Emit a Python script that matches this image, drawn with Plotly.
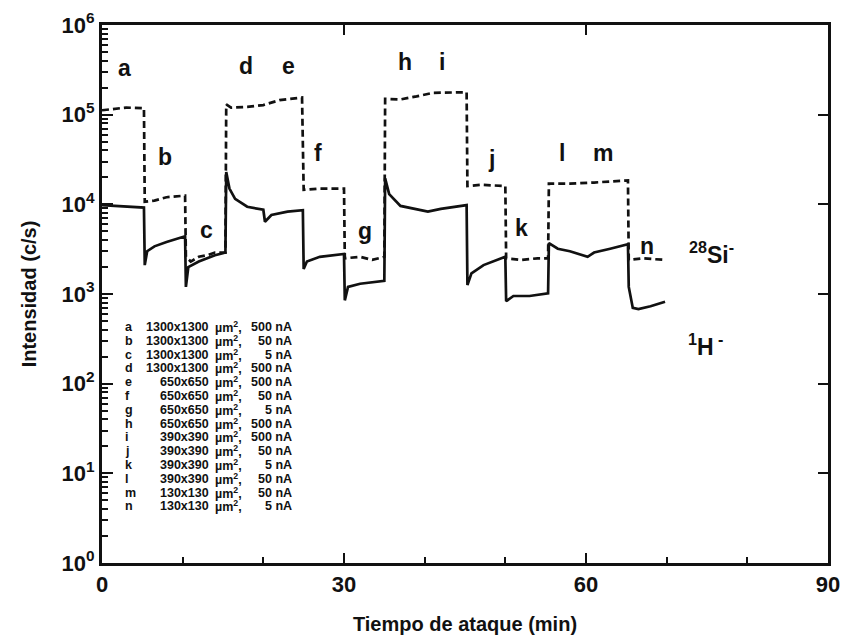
import math
import plotly.graph_objects as go

# Sputter-time profile: 1H- and 28Si- secondary-ion intensity (counts/s)
# while the raster area and primary current are stepped (segments a..n).

time_h = [0, 2, 5.2, 5.3, 5.6, 6.5, 8, 10.3, 10.4, 10.7, 12, 14, 15.3,
          15.4, 15.8, 16.5, 18, 20.0, 20.2, 21, 23, 24.9, 25.0, 25.4, 27, 30.0,
          30.1, 30.5, 32, 35.0, 35.1, 35.6, 37, 40.4, 42, 45.2, 45.3, 45.8,
          47.3, 50.0, 50.1, 51, 53, 55.3, 55.4, 56.5, 58, 60.2, 61, 63, 65.2,
          65.3, 65.8, 66.5, 68, 69.8]
int_h = [9800, 9600, 9200, 2100, 3000, 3400, 3800, 4400, 1200, 2000, 2300,
         2700, 2900, 23000, 15000, 11500, 9400, 8700, 6400, 7600, 8300, 8600,
         1900, 2300, 2600, 2800, 850, 1200, 1300, 1400, 19500, 13000, 9600,
         8300, 8900, 9800, 1260, 1700, 2100, 2600, 830, 950, 950, 1020, 3700,
         3200, 3000, 2600, 2900, 3200, 3600, 1200, 700, 680, 730, 820]

time_si = [0, 1, 3, 5.2, 5.3, 6.5, 8, 10.3, 10.4, 11, 12, 13, 14, 15.3,
           15.4, 16, 18, 20, 22, 24.8, 25.0, 27, 30.0, 30.1, 32, 33.5, 35.0,
           35.1, 37, 39, 41, 45.2, 45.3, 47, 50.0, 50.1, 52, 54, 55.3, 55.4,
           58, 61, 65.2, 65.3, 67, 69.8]
int_si = [112000, 115000, 120000, 118000, 10700, 11000, 12000, 12500, 2600,
          2300, 2600, 2700, 2900, 2900, 130000, 120000, 122000, 128000,
          145000, 155000, 14500, 15000, 15000, 2500, 2600, 2400, 2600, 150000,
          148000, 160000, 175000, 178000, 16000, 16500, 16000, 2500, 2400,
          2500, 2500, 17000, 17000, 17500, 18500, 2400, 2500, 2400]

# segment letters with their (time, intensity) anchor
seg_letters = ["a", "b", "c", "d", "e", "f", "g", "h", "i", "j", "k", "l", "m", "n"]
seg_time = [2.85, 7.8, 12.9, 17.9, 23.1, 26.8, 32.6, 37.5, 42.1, 48.3, 52.0, 57.0, 62.1, 67.6]
seg_level = [3.3e5, 3.4e4, 5.2e3, 3.5e5, 3.5e5, 3.7e4, 5.1e3, 3.9e5, 3.9e5,
             3.2e4, 5.4e3, 3.7e4, 3.7e4, 3.4e3]

# conditions table: raster size and primary current of each segment
raster_size = ["1300x1300", "1300x1300", "1300x1300", "1300x1300",
               "650x650", "650x650", "650x650", "650x650",
               "390x390", "390x390", "390x390", "390x390",
               "130x130", "130x130"]
beam_current = ["500 nA", "50 nA", "5 nA", "500 nA", "500 nA", "50 nA", "5 nA",
                "500 nA", "500 nA", "50 nA", "5 nA", "50 nA", "50 nA", "5 nA"]

decades = [1, 10, 100, 1000, 10000, 100000, 1000000]
decade_text = ["10<sup>%d</sup>" % k for k in range(7)]
minor_log = [m * d for d in decades[:-1] for m in range(2, 10)]

FONT = "Liberation Sans"
INK = "#111111"

fig = go.Figure()
fig.add_trace(go.Scatter(x=time_h, y=int_h, mode="lines",
                         line=dict(color=INK, width=2.7),
                         showlegend=False, hoverinfo="skip"))
fig.add_trace(go.Scatter(x=time_si, y=int_si, mode="lines",
                         line=dict(color=INK, width=2.7, dash="7px,4px"),
                         xaxis="x2", yaxis="y2",
                         showlegend=False, hoverinfo="skip"))

frame = dict(showline=True, linewidth=3, linecolor=INK, showgrid=False,
             zeroline=False, automargin=False)

fig.update_layout(
    width=844, height=635,
    margin=dict(l=102, r=16, t=25, b=72),
    paper_bgcolor="white", plot_bgcolor="white",
    xaxis=dict(range=[0, 90], tickvals=[0, 30, 60, 90], ticks="inside",
               ticklen=10, tickwidth=2, tickcolor=INK, mirror=True,
               minor=dict(ticks="inside", tickvals=[10, 20, 40, 50, 70, 80],
                          ticklen=6, tickwidth=2, tickcolor=INK),
               tickfont=dict(family=FONT, size=22, color=INK, weight="bold"),
               title=dict(text="Tiempo de ataque (min)", standoff=26,
                          font=dict(family=FONT, size=20, color=INK,
                                    weight="bold")),
               **frame),
    yaxis=dict(type="log", range=[0, 6], tickvals=decades, ticktext=decade_text,
               ticks="inside", ticklen=11, tickwidth=2, tickcolor=INK,
               mirror=True,
               minor=dict(ticks="inside", tickvals=minor_log, ticklen=6,
                          tickwidth=2, tickcolor=INK),
               tickfont=dict(family=FONT, size=22, color=INK, weight="bold"),
               title=dict(text="Intensidad (c/s)", standoff=20,
                          font=dict(family=FONT, size=20, color=INK,
                                    weight="bold")),
               **frame),
    xaxis2=dict(range=[0, 90], overlaying="x", side="top", anchor="y2",
                tickvals=[30, 60], ticks="inside", ticklen=10, tickwidth=2,
                tickcolor=INK, showticklabels=False, showgrid=False,
                zeroline=False, showline=False),
    yaxis2=dict(type="log", range=[0, 6], overlaying="y", side="right",
                anchor="x2", tickvals=decades, ticks="inside", ticklen=10,
                tickwidth=2, tickcolor=INK, showticklabels=False,
                showgrid=False, zeroline=False, showline=False),
)

big = dict(family=FONT, size=23, color=INK, weight="bold")

# segment letters over the profile (log axis: annotation y in decades)
for letter, t, lvl in zip(seg_letters, seg_time, seg_level):
    fig.add_annotation(x=t, y=math.log10(lvl), xref="x", yref="y",
                       yanchor="middle", text=letter, showarrow=False,
                       font=big)

# species labels
fig.add_annotation(x=75.5, y=math.log10(2.9e3), xref="x", yref="y",
                   showarrow=False, text="<sup>28</sup>Si<sup>-</sup>",
                   font=big)
fig.add_annotation(x=74.8, y=math.log10(2.7e2), xref="x", yref="y",
                   showarrow=False, text="<sup>1</sup>H<sup> -</sup>",
                   font=big)

# conditions table in the lower-left corner
row0_px, row_step_px = 327, 13.8
small = dict(family=FONT, size=12.5, color=INK, weight="bold")


def px_x(px):
    return (px - 102) / 726


def px_y(py):
    return (563 - py) / 538


for i, (letter, size, cur) in enumerate(zip(seg_letters, raster_size, beam_current)):
    yy = px_y(row0_px + i * row_step_px)
    fig.add_annotation(x=px_x(123), y=yy, xref="paper", yref="paper",
                       xanchor="left", yanchor="middle", text=letter,
                       showarrow=False, font=small)
    fig.add_annotation(x=px_x(211), y=yy, xref="paper", yref="paper",
                       xanchor="right", yanchor="middle", text=size,
                       showarrow=False, font=small)
    fig.add_annotation(x=px_x(213), y=yy, xref="paper", yref="paper",
                       xanchor="left", yanchor="middle",
                       text="µm<sup>2</sup>,", showarrow=False, font=small)
    fig.add_annotation(x=px_x(294), y=yy, xref="paper", yref="paper",
                       xanchor="right", yanchor="middle", text=cur,
                       showarrow=False, font=small)

fig.write_html("out.html")
